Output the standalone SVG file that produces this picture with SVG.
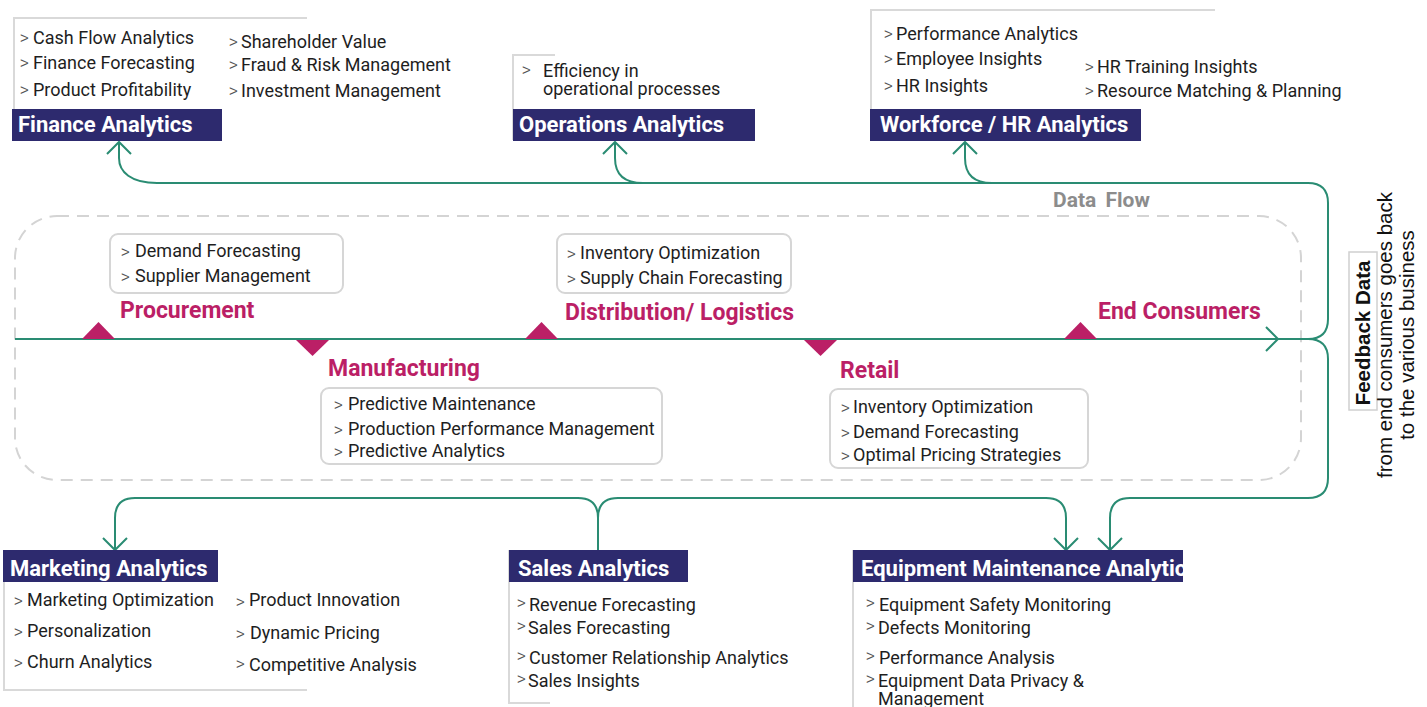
<svg xmlns="http://www.w3.org/2000/svg" width="1427" height="707" viewBox="0 0 1427 707">
<defs>
<style>
.hdr{fill:#2d2a6e}
.hdrt{font-family:Roboto,"Liberation Sans",sans-serif;font-weight:700;font-size:22px;fill:#fff}
.it{font-family:Roboto,"Liberation Sans",sans-serif;font-size:18px;fill:#1e1e1e}
.ch{font-family:"Liberation Sans",Roboto,sans-serif;font-size:15px;fill:#555}
.brd{fill:none;stroke:#d9d9d9;stroke-width:2}
.ibox{fill:#fff;stroke:#d6d6d6;stroke-width:2}
.stage{font-family:Roboto,"Liberation Sans",sans-serif;font-weight:700;font-size:23px;fill:#bb1f66}
.tri{fill:#bb1f66}
.con{fill:none;stroke:#2a8c73;stroke-width:2}
.fb{font-family:"Liberation Sans",Arial,sans-serif;font-size:20.5px;fill:#111}
</style>
<clipPath id="eqclip"><rect x="853" y="550" width="330" height="32"/></clipPath>
</defs>

<!-- dashed data flow region -->
<rect x="15" y="216" width="1286" height="264" rx="42" fill="none" stroke="#d4d4d4" stroke-width="2" stroke-dasharray="12 8"/>
<text x="1053" y="207" font-family="Roboto,'Liberation Sans',sans-serif" font-weight="700" font-size="21" fill="#8c8c8c" word-spacing="4">Data Flow</text>

<g id="connectors">
<path class="con" d="M15,339 H1310"/>
<path class="con" d="M1266,327 L1278,339 L1266,351"/>
<path class="con" d="M1308,339 Q1328,339 1328,319 V203 Q1328,183 1308,183 H157 C131,183 119,172 119,158 V142"/>
<path class="con" d="M107,154 L119,142 L131,154"/>
<path class="con" d="M643,183 C622,183 615,172 615,158 V142"/>
<path class="con" d="M603,154 L615,142 L627,154"/>
<path class="con" d="M992,183 C971,183 965,172 965,158 V142"/>
<path class="con" d="M953,154 L965,142 L977,154"/>
<path class="con" d="M1308,339 Q1328,339 1328,359 V478 Q1328,498 1308,498 H1130 Q1110,498 1110,518 V550"/>
<path class="con" d="M1098,538 L1110,550 L1122,538"/>
<path class="con" d="M598,550 V518 Q598,498 578,498 H135 Q115,498 115,518 V550"/>
<path class="con" d="M103,538 L115,550 L127,538"/>
<path class="con" d="M598,518 Q598,498 618,498 H1046 Q1066,498 1066,518 V550"/>
<path class="con" d="M1054,538 L1066,550 L1078,538"/>
</g>

<!-- Finance -->
<g id="finance">
<path class="brd" d="M14,140 V18 H307"/>
<text class="ch" x="20" y="43">&gt;</text><text class="it" x="33" y="44">Cash Flow Analytics</text>
<text class="ch" x="20" y="68">&gt;</text><text class="it" x="33" y="69">Finance Forecasting</text>
<text class="ch" x="20" y="95">&gt;</text><text class="it" x="33" y="96">Product Profitability</text>
<text class="ch" x="229" y="47">&gt;</text><text class="it" x="241" y="48">Shareholder Value</text>
<text class="ch" x="229" y="70">&gt;</text><text class="it" x="241" y="71">Fraud &amp; Risk Management</text>
<text class="ch" x="229" y="96">&gt;</text><text class="it" x="241" y="97">Investment Management</text>
<rect class="hdr" x="12" y="109" width="210" height="32"/>
<text class="hdrt" x="18" y="132">Finance Analytics</text>
</g>

<!-- Operations -->
<g id="operations">
<path class="brd" d="M513,140 V55 H555"/>
<text class="ch" x="522" y="75">&gt;</text>
<text class="it" x="543" y="77">Efficiency in</text>
<text class="it" x="543" y="95">operational processes</text>
<rect class="hdr" x="513" y="109" width="242" height="32"/>
<text class="hdrt" x="519" y="132">Operations Analytics</text>
</g>

<!-- Workforce -->
<g id="workforce">
<path class="brd" d="M871,140 V10 H1215"/>
<text class="ch" x="884" y="39">&gt;</text><text class="it" x="896" y="40">Performance Analytics</text>
<text class="ch" x="884" y="64">&gt;</text><text class="it" x="896" y="65">Employee Insights</text>
<text class="ch" x="884" y="91">&gt;</text><text class="it" x="896" y="92">HR Insights</text>
<text class="ch" x="1085" y="72">&gt;</text><text class="it" x="1097" y="73">HR Training Insights</text>
<text class="ch" x="1085" y="96">&gt;</text><text class="it" x="1097" y="97">Resource Matching &amp; Planning</text>
<rect class="hdr" x="870" y="109" width="271" height="32"/>
<text class="hdrt" x="880" y="132">Workforce / HR Analytics</text>
</g>

<!-- Procurement -->
<g id="procurement">
<polygon class="tri" points="82,339 115,339 98.5,322"/>
<rect class="ibox" x="110" y="234" width="233" height="59" rx="8"/>
<text class="ch" x="121" y="257">&gt;</text><text class="it" x="135" y="257">Demand Forecasting</text>
<text class="ch" x="121" y="282">&gt;</text><text class="it" x="135" y="282">Supplier Management</text>
<text class="stage" x="120" y="318">Procurement</text>
</g>

<!-- Manufacturing -->
<g id="manufacturing">
<polygon class="tri" points="296,340 329,340 312.5,356"/>
<text class="stage" x="328" y="376">Manufacturing</text>
<rect class="ibox" x="321" y="388" width="341" height="76" rx="8"/>
<text class="ch" x="334" y="410">&gt;</text><text class="it" x="348" y="410">Predictive Maintenance</text>
<text class="ch" x="334" y="435">&gt;</text><text class="it" x="348" y="435">Production Performance Management</text>
<text class="ch" x="334" y="457">&gt;</text><text class="it" x="348" y="457">Predictive Analytics</text>
</g>

<!-- Distribution -->
<g id="distribution">
<polygon class="tri" points="525,339 558,339 541.5,322"/>
<rect class="ibox" x="557" y="234" width="234" height="59" rx="8"/>
<text class="ch" x="567" y="259">&gt;</text><text class="it" x="580" y="259">Inventory Optimization</text>
<text class="ch" x="567" y="284">&gt;</text><text class="it" x="580" y="284">Supply Chain Forecasting</text>
<text class="stage" x="565" y="320">Distribution/ Logistics</text>
</g>

<!-- Retail -->
<g id="retail">
<polygon class="tri" points="804,340 837,340 820.5,356"/>
<text class="stage" x="840" y="378">Retail</text>
<rect class="ibox" x="830" y="389" width="258" height="79" rx="8"/>
<text class="ch" x="841" y="413">&gt;</text><text class="it" x="853" y="413">Inventory Optimization</text>
<text class="ch" x="841" y="438">&gt;</text><text class="it" x="853" y="438">Demand Forecasting</text>
<text class="ch" x="841" y="461">&gt;</text><text class="it" x="853" y="461">Optimal Pricing Strategies</text>
</g>

<!-- End consumers -->
<g id="end-consumers">
<polygon class="tri" points="1064,339 1097,339 1080.5,322"/>
<text class="stage" x="1098" y="319">End Consumers</text>
</g>

<!-- Feedback -->
<g id="feedback">
<rect x="1349" y="252" width="28" height="158" fill="none" stroke="#d0d0d0" stroke-width="1.5"/>
<text class="fb" transform="translate(1370,333) rotate(-90)" text-anchor="middle" font-weight="700" font-size="21">Feedback Data</text>
<text class="fb" transform="translate(1392,335) rotate(-90)" text-anchor="middle">from end consumers goes back</text>
<text class="fb" transform="translate(1414,335) rotate(-90)" text-anchor="middle">to the various business</text>
</g>

<!-- Marketing -->
<g id="marketing">
<path class="brd" d="M4,550 V690 H307"/>
<rect class="hdr" x="3" y="550" width="215" height="32"/>
<text class="hdrt" x="10" y="576">Marketing Analytics</text>
<text class="ch" x="14" y="606">&gt;</text><text class="it" x="27" y="606">Marketing Optimization</text>
<text class="ch" x="14" y="637">&gt;</text><text class="it" x="27" y="637">Personalization</text>
<text class="ch" x="14" y="668">&gt;</text><text class="it" x="27" y="668">Churn Analytics</text>
<text class="ch" x="236" y="607">&gt;</text><text class="it" x="249" y="606">Product Innovation</text>
<text class="ch" x="236" y="639">&gt;</text><text class="it" x="250" y="639">Dynamic Pricing</text>
<text class="ch" x="236" y="669">&gt;</text><text class="it" x="249" y="671">Competitive Analysis</text>
</g>

<!-- Sales -->
<g id="sales">
<path class="brd" d="M509,550 V703 H550"/>
<rect class="hdr" x="509" y="550" width="179" height="32"/>
<text class="hdrt" x="518" y="576">Sales Analytics</text>
<text class="ch" x="517" y="608">&gt;</text><text class="it" x="529" y="611">Revenue Forecasting</text>
<text class="ch" x="517" y="631">&gt;</text><text class="it" x="528" y="634">Sales Forecasting</text>
<text class="ch" x="517" y="661">&gt;</text><text class="it" x="529" y="664">Customer Relationship Analytics</text>
<text class="ch" x="517" y="684">&gt;</text><text class="it" x="528" y="687">Sales Insights</text>
</g>

<!-- Equipment -->
<g id="equipment">
<path class="brd" d="M853,550 V707"/>
<rect class="hdr" x="853" y="550" width="330" height="32"/>
<text class="hdrt" x="861" y="576" clip-path="url(#eqclip)">Equipment Maintenance Analytics</text>
<text class="ch" x="866" y="608">&gt;</text><text class="it" x="879" y="611">Equipment Safety Monitoring</text>
<text class="ch" x="866" y="631">&gt;</text><text class="it" x="878" y="634">Defects Monitoring</text>
<text class="ch" x="866" y="661">&gt;</text><text class="it" x="879" y="664">Performance Analysis</text>
<text class="ch" x="866" y="684">&gt;</text><text class="it" x="878" y="687">Equipment Data Privacy &amp;</text>
<text class="it" x="878" y="705">Management</text>
</g>
</svg>
